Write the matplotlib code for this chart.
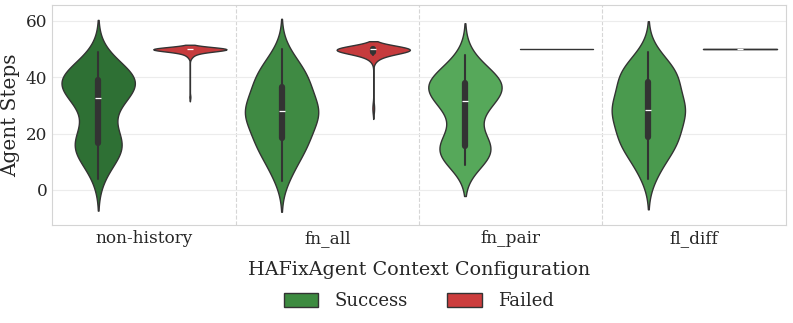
import numpy as np
import pandas as pd
import matplotlib
matplotlib.use("Agg")
import matplotlib.pyplot as plt
import seaborn as sns
from matplotlib.patches import Patch

configs = ["non-history", "fn_all", "fn_pair", "fl_diff"]
outcomes = ["Success", "Failed"]

# agent steps of the successful runs, per configuration
success_steps = {
    "non-history": [4, 7, 9, 11, 12, 13, 14, 15, 15, 16, 16, 16, 17, 18, 19, 20, 22, 24,
                    26, 28, 30, 31, 32, 32, 33, 34, 35, 36, 36, 37, 37, 38, 38, 38, 39, 39,
                    39, 40, 40, 40, 41, 41, 42, 43, 44, 45, 47, 49],
    "fn_all": [3, 6, 8, 10, 11, 13, 14, 15, 16, 17, 17, 18, 19, 20, 21, 22, 23, 24, 25, 26,
               26, 27, 27, 28, 28, 28, 29, 29, 30, 31, 32, 33, 34, 35, 36, 37, 38, 38, 39,
               40, 41, 42, 43, 44, 45, 47, 50],
    "fn_pair": [9, 10, 11, 12, 13, 13, 14, 14, 15, 15, 16, 17, 18, 20, 23, 26, 28, 30, 31,
                31, 32, 33, 34, 35, 35, 36, 36, 37, 37, 38, 38, 38, 39, 39, 40, 41, 42, 43,
                45, 48],
    "fl_diff": [4, 7, 9, 11, 13, 14, 15, 16, 17, 17, 18, 19, 20, 21, 22, 23, 24, 25, 26, 27,
                28, 28, 29, 29, 30, 30, 31, 31, 32, 33, 35, 37, 38, 39, 39, 40, 40, 41, 42,
                43, 44, 45, 47, 49],
}

# failed runs: step values and how often they occur
failed_values = {
    "non-history": [33, 47, 48, 49, 50],
    "fn_all": [28, 30, 46, 47, 48, 49, 50],
    "fn_pair": [50],
    "fl_diff": [50],
}
failed_counts = {
    "non-history": [1, 2, 5, 12, 70],
    "fn_all": [1, 1, 2, 3, 6, 12, 55],
    "fn_pair": [1],
    "fl_diff": [3],
}

success_colors = {
    "non-history": "#2e7034",
    "fn_all": "#3f8a43",
    "fn_pair": "#56a85a",
    "fl_diff": "#4a9a4e",
}
failed_color = "#c63b3d"

rows = []
for c in configs:
    for v in success_steps[c]:
        rows.append((c, "Success", v))
    for v in np.repeat(failed_values[c], failed_counts[c]):
        rows.append((c, "Failed", v))
df = pd.DataFrame(rows, columns=["config", "outcome", "steps"])

sns.set_style("whitegrid")
plt.rcParams["font.family"] = ["DejaVu Serif"]

fig, ax = plt.subplots(figsize=(7.93, 3.23), dpi=100)
fig.subplots_adjust(left=0.066, right=0.991, top=0.985, bottom=0.303)

for c in configs:
    sub = df[df["config"] == c]
    sns.violinplot(data=sub, x="config", y="steps", hue="outcome",
                   order=configs, hue_order=outcomes,
                   palette={"Success": success_colors[c], "Failed": failed_color},
                   saturation=1, width=1.0, gap=0.2, density_norm="width", inner="box",
                   linewidth=1, linecolor="#333333", legend=False, ax=ax)

ax.set_xlim(-0.5, 3.5)
ax.set_ylim(-12.5, 65.7)
ax.set_yticks([0, 20, 40, 60])
ax.grid(axis="y", color="#ececec", linewidth=0.8)
ax.grid(axis="x", visible=False)
for xs in [0.5, 1.5, 2.5]:
    ax.axvline(xs, color="#d6d6d6", linestyle="--", linewidth=0.8, zorder=0)
for sp in ax.spines.values():
    sp.set_color("#d4d4d4")

ax.tick_params(axis="both", labelsize=12.2, length=0)
ax.set_ylabel("Agent Steps", fontsize=14.4)
ax.set_xlabel("HAFixAgent Context Configuration", fontsize=13.8, labelpad=10)

handles = [Patch(facecolor="#3d8b40", edgecolor="#333333", label="Success"),
           Patch(facecolor="#cc3d3d", edgecolor="#333333", label="Failed")]
fig.legend(handles=handles, loc="lower center", ncol=2, frameon=False,
           fontsize=13, bbox_to_anchor=(0.528, -0.01), handlelength=1.9,
           handleheight=0.8, columnspacing=2.2, handletextpad=0.9)

fig.savefig("out.png", dpi=100)
